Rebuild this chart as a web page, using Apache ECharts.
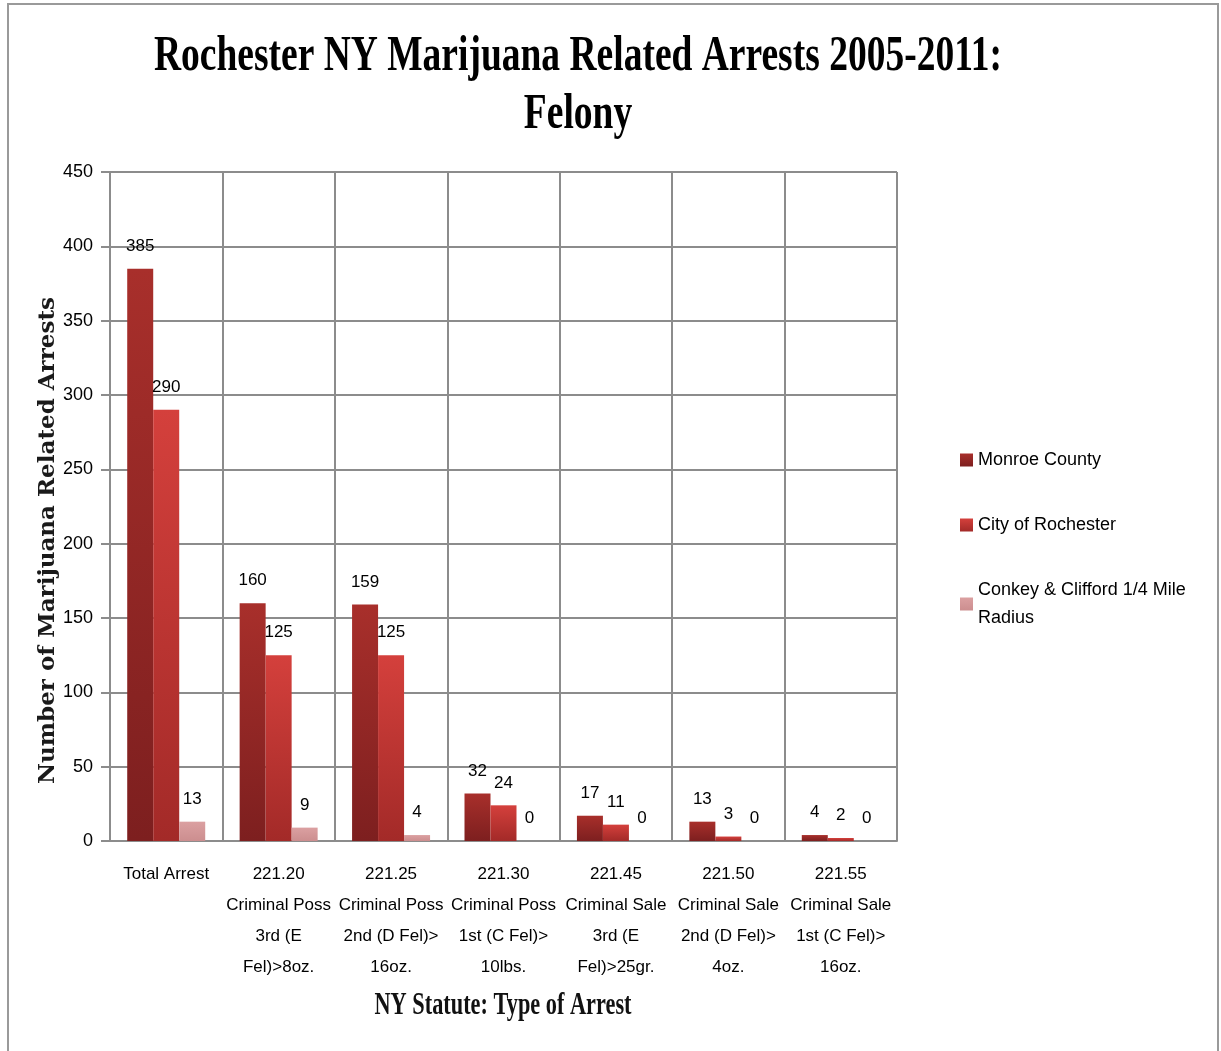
<!DOCTYPE html>
<html>
<head>
<meta charset="utf-8">
<script src="https://cdn.jsdelivr.net/npm/echarts@6/dist/echarts.min.js"></script>
<style>
html,body{margin:0;padding:0;background:#fff;}
#chart{width:1221px;height:1051px;}
</style>
</head>
<body>
<div id="chart"></div>
<script>
var categories = [
  'Total Arrest',
  '221.20\nCriminal Poss\n3rd (E\nFel)>8oz.',
  '221.25\nCriminal Poss\n2nd (D Fel)>\n16oz.',
  '221.30\nCriminal Poss\n1st (C Fel)>\n10lbs.',
  '221.45\nCriminal Sale\n3rd (E\nFel)>25gr.',
  '221.50\nCriminal Sale\n2nd (D Fel)>\n4oz.',
  '221.55\nCriminal Sale\n1st (C Fel)>\n16oz.'
];
var seriesNames = ['Monroe County', 'City of Rochester', 'Conkey & Clifford 1/4 Mile Radius'];
var monroeCounty = [385, 160, 159, 32, 17, 13, 4];
var cityOfRochester = [290, 125, 125, 24, 11, 3, 2];
var conkeyClifford = [13, 9, 4, 0, 0, 0, 0];
var titleText = 'Rochester NY Marijuana Related Arrests 2005-2011:\nFelony';
var yAxisName = 'Number of Marijuana Related Arrests';
var xAxisName = 'NY Statute: Type of Arrest';

function grad(top, bottom) {
  return new echarts.graphic.LinearGradient(0, 0, 0, 1, [
    {offset: 0, color: top}, {offset: 1, color: bottom}
  ]);
}
var colors = [
  grad('#a82f2b', '#7d1f1f'),
  grad('#d4403c', '#a32a28'),
  grad('#dba0a1', '#cc8e8f')
];
var tickFont = '"Liberation Sans Narrow", "Arial Narrow", "Liberation Sans", sans-serif';
var labelStyle = {
  show: true, position: 'top', distance: 14,
  color: '#000', fontSize: 17, fontFamily: tickFont
};
function makeSeries(name, data, i) {
  return {
    name: name, type: 'bar', data: data,
    barWidth: 26, barGap: '0%',
    itemStyle: {color: colors[i]},
    label: labelStyle
  };
}

var chart = echarts.init(document.getElementById('chart'));
chart.setOption({
  backgroundColor: '#fff',
  animation: false,
  grid: {left: 110, right: 324, top: 172, bottom: 210, containLabel: false},
  legend: {
    orient: 'vertical', left: 955, top: 441,
    itemWidth: 13, itemHeight: 13, itemGap: 37,
    icon: 'rect',
    textStyle: {fontSize: 18, fontFamily: tickFont, color: '#000', lineHeight: 28},
    formatter: function (n) { return n === seriesNames[2] ? 'Conkey & Clifford 1/4 Mile\nRadius' : n; },
    data: seriesNames
  },
  xAxis: {
    type: 'category', data: categories,
    axisLine: {lineStyle: {color: '#8c8c8c', width: 2}},
    axisTick: {show: false},
    splitLine: {show: true, lineStyle: {color: '#8c8c8c', width: 2}},
    axisLabel: {interval: 0, margin: 18, fontSize: 17, lineHeight: 31, color: '#000', fontFamily: tickFont}
  },
  yAxis: {
    type: 'value', min: 0, max: 450, interval: 50,
    name: yAxisName, nameLocation: 'middle', nameGap: 50, nameRotate: 90,
    nameMoveOverlap: false,
    nameTextStyle: {fontFamily: '"DejaVu Serif", serif', fontWeight: 'bold', fontSize: 23, color: '#1a1a1a', padding: [0, 68, 0, 0]},
    axisLine: {show: true, lineStyle: {color: '#8c8c8c', width: 2}},
    axisTick: {show: true, length: 9, lineStyle: {color: '#8c8c8c', width: 2}},
    splitLine: {lineStyle: {color: '#8c8c8c', width: 2}},
    axisLabel: {margin: 17, fontSize: 18, color: '#000', fontFamily: tickFont}
  },
  series: [
    makeSeries(seriesNames[0], monroeCounty, 0),
    makeSeries(seriesNames[1], cityOfRochester, 1),
    makeSeries(seriesNames[2], conkeyClifford, 2)
  ],
  graphic: [
    {type: 'rect', z: -1, shape: {x: 8, y: 4, width: 1210, height: 1060},
     style: {fill: 'none', stroke: '#9a9a9a', lineWidth: 2}},
    {type: 'text', x: 578, y: 28, scaleX: 0.75,
     style: {text: titleText, font: 'bold 50px "Liberation Serif", serif', fill: '#000',
             textAlign: 'center', textVerticalAlign: 'top', lineHeight: 58}},
    {type: 'text', x: 503, y: 990, scaleX: 0.72,
     style: {text: xAxisName, font: 'bold 31px "Liberation Serif", serif', fill: '#111',
             textAlign: 'center', textVerticalAlign: 'top'}}
  ]
});
</script>
</body>
</html>
